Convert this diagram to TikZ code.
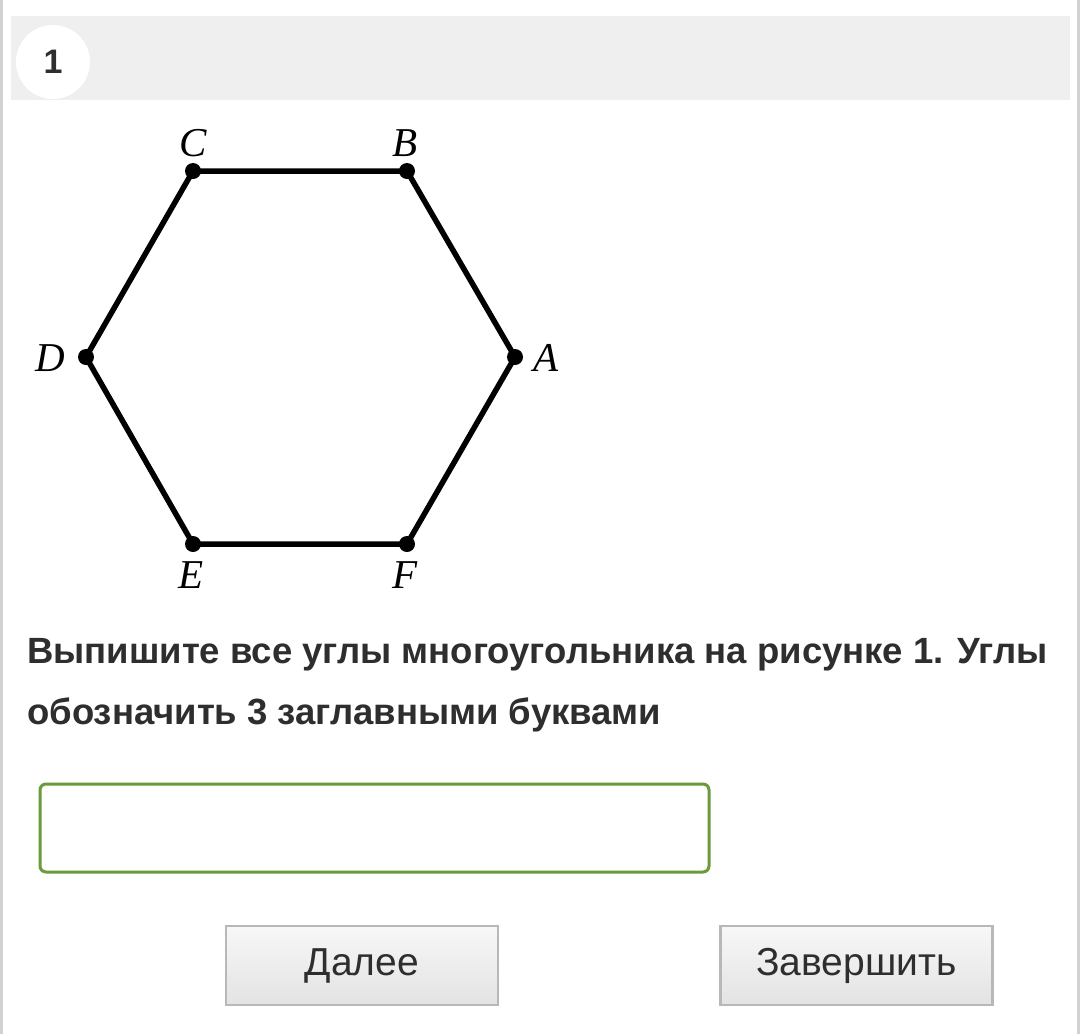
\documentclass[tikz,border=0pt]{standalone}
\usepackage{fontspec}
\setmainfont{Liberation Sans}
\newfontfamily\seriffont{Liberation Serif}
\usetikzlibrary{calc}
\definecolor{bandgray}{HTML}{EFEFEF}
\definecolor{framegray}{HTML}{D2D2D2}
\definecolor{textgray}{HTML}{2E2E2E}
\definecolor{btnborder}{HTML}{B8B8B8}
\definecolor{fieldgreen}{HTML}{6A9A3A}
\tikzset{
  vertex/.style={circle,fill=black,inner sep=0pt,minimum size=16pt},
  ptlabel/.style={font=\seriffont\itshape\fontsize{41}{41}\selectfont},
  question/.style={anchor=west,inner sep=0pt,text=textgray,font=\bfseries\fontsize{36.5}{36.5}\selectfont},
  button/.style={draw=btnborder,line width=2.5pt,top color=white!97!black,bottom color=white!89!black,
    minimum width=272pt,minimum height=79pt,text=textgray,font=\fontsize{39}{39}\selectfont}
}
\begin{document}
\begin{tikzpicture}[x=1pt,y=-1pt]
  \useasboundingbox (0,0) rectangle (1080,1034);
  \fill[white] (0,0) rectangle (1080,1034);
  % side frame
  \fill[framegray] (0,0) rectangle (3,1034);
  \fill[framegray] (1077,0) rectangle (1080,1034);
  % header band with number
  \fill[bandgray] (11,16) rectangle (1070,100);
  \node[circle,fill=white,minimum size=74pt,inner sep=0pt,text=textgray,
        font=\bfseries\fontsize{34}{34}\selectfont] (num) at (53,62) {1};
  % hexagon
  \node[vertex] (A) at (515,357) {};
  \node[vertex] (B) at (407,171) {};
  \node[vertex] (C) at (193,171) {};
  \node[vertex] (D) at (86,357) {};
  \node[vertex] (E) at (193,544) {};
  \node[vertex] (F) at (407,544) {};
  \draw[line width=5.5pt,line join=round] (A.center) -- (B.center) -- (C.center) -- (D.center)
     -- (E.center) -- (F.center) -- cycle;
  \node[ptlabel] (lA) at (546,358) {A};
  \node[ptlabel] (lB) at (405,143) {B};
  \node[ptlabel] (lC) at (193,143) {C};
  \node[ptlabel] (lD) at (50,358) {D};
  \node[ptlabel] (lE) at (191,575) {E};
  \node[ptlabel] (lF) at (405,575) {F};
  % task text
  \node[question] (q1) at (27,655) {Выпишите все углы многоугольника на рисунке 1. Углы};
  \node[question] (q2) at (27,715) {обозначить 3 заглавными буквами};
  % answer field
  \node[draw=fieldgreen,line width=3pt,rounded corners=6pt,minimum width=669pt,
        minimum height=88pt] (answer) at (374.5,828) {};
  % buttons
  \node[button] (next) at (362,965.5) {Далее};
  \node[button] (finish) at (856.5,965.5) {Завершить};
\end{tikzpicture}
\end{document}
